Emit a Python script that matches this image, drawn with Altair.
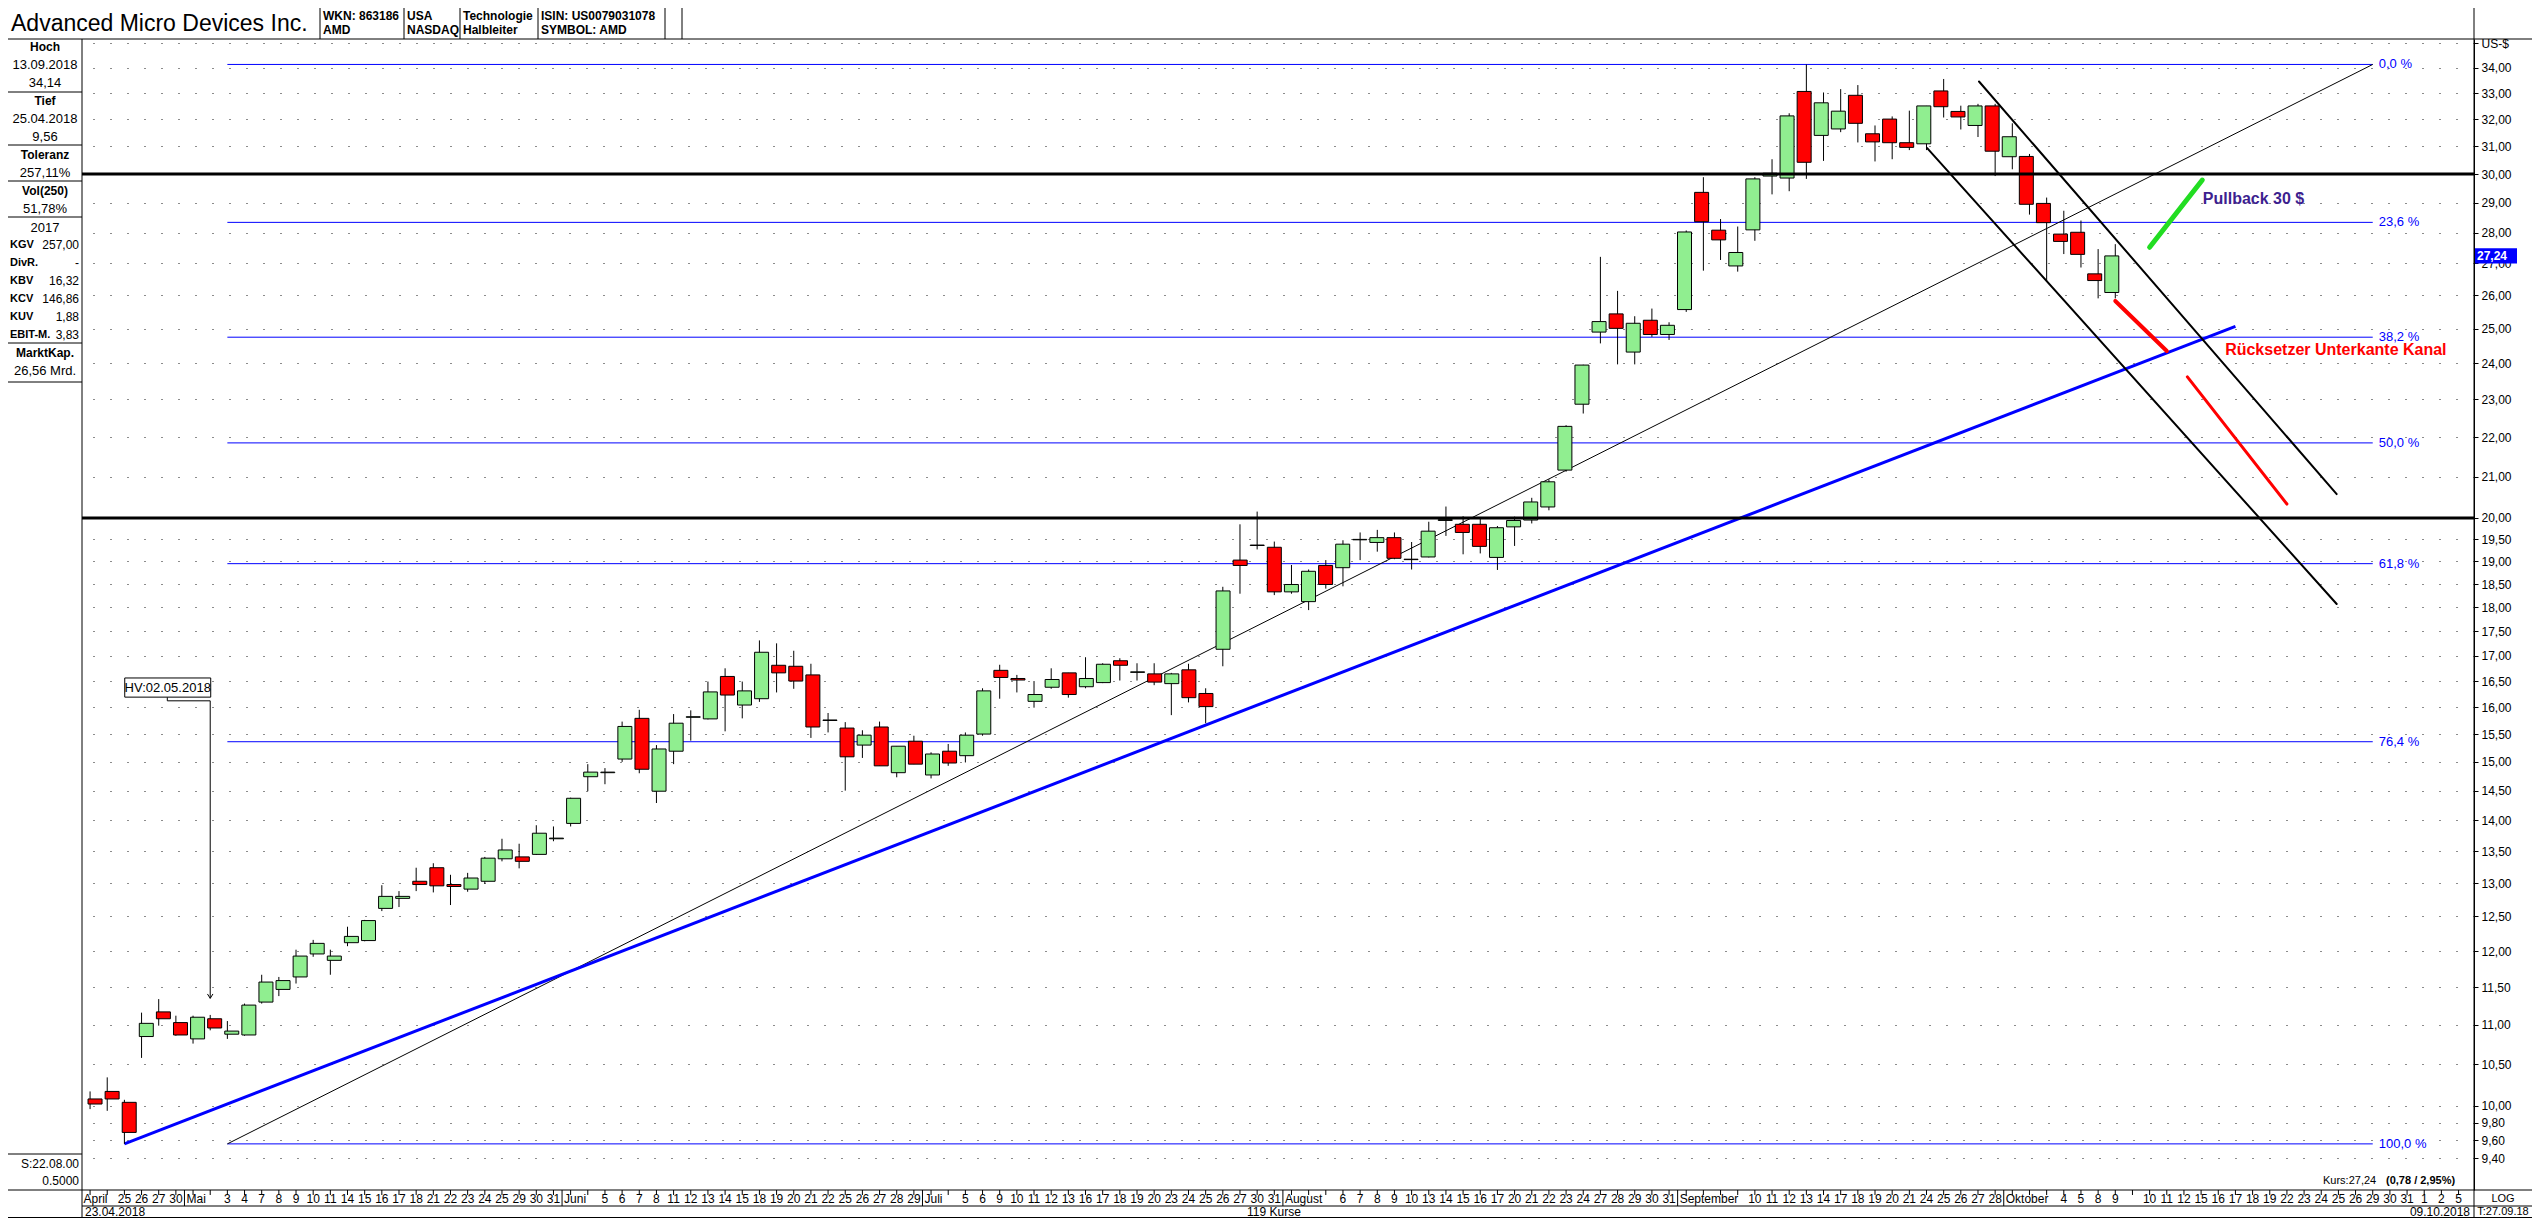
import altair as alt
import pandas as pd

# ---------------- chart values ----------------
trade_dates = [
    "23.04.2018", "24.04.2018", "25.04.2018", "26.04.2018", "27.04.2018", "30.04.2018",
    "01.05.2018", "02.05.2018", "03.05.2018", "04.05.2018", "07.05.2018", "08.05.2018", "09.05.2018",
    "10.05.2018", "11.05.2018", "14.05.2018", "15.05.2018", "16.05.2018", "17.05.2018", "18.05.2018",
    "21.05.2018", "22.05.2018", "23.05.2018", "24.05.2018", "25.05.2018", "29.05.2018", "30.05.2018",
    "31.05.2018",
    "01.06.2018", "04.06.2018", "05.06.2018", "06.06.2018", "07.06.2018", "08.06.2018", "11.06.2018",
    "12.06.2018", "13.06.2018", "14.06.2018", "15.06.2018", "18.06.2018", "19.06.2018", "20.06.2018",
    "21.06.2018", "22.06.2018", "25.06.2018", "26.06.2018", "27.06.2018", "28.06.2018", "29.06.2018",
    "02.07.2018", "03.07.2018", "05.07.2018", "06.07.2018", "09.07.2018", "10.07.2018", "11.07.2018",
    "12.07.2018", "13.07.2018", "16.07.2018", "17.07.2018", "18.07.2018", "19.07.2018", "20.07.2018",
    "23.07.2018", "24.07.2018", "25.07.2018", "26.07.2018", "27.07.2018", "30.07.2018", "31.07.2018",
    "01.08.2018", "02.08.2018", "03.08.2018", "06.08.2018", "07.08.2018", "08.08.2018", "09.08.2018",
    "10.08.2018", "13.08.2018", "14.08.2018", "15.08.2018", "16.08.2018", "17.08.2018", "20.08.2018",
    "21.08.2018", "22.08.2018", "23.08.2018", "24.08.2018", "27.08.2018", "28.08.2018", "29.08.2018",
    "30.08.2018", "31.08.2018",
    "04.09.2018", "05.09.2018", "06.09.2018", "07.09.2018", "10.09.2018", "11.09.2018", "12.09.2018",
    "13.09.2018", "14.09.2018", "17.09.2018", "18.09.2018", "19.09.2018", "20.09.2018", "21.09.2018",
    "24.09.2018", "25.09.2018", "26.09.2018", "27.09.2018", "28.09.2018",
    "01.10.2018", "02.10.2018", "03.10.2018", "04.10.2018", "05.10.2018", "08.10.2018", "09.10.2018",
]

opens = [
    10.08, 10.17, 10.04, 10.85, 11.17, 11.03, 10.82, 11.08, 10.88, 10.87, 11.30, 11.47, 11.64, 11.96, 11.87,
    12.12, 12.15, 12.62, 12.77, 13.03, 13.24, 12.98, 12.91, 13.03, 13.38, 13.41, 13.45, 13.70,
    13.95, 14.74, 14.81, 15.05, 15.79, 14.49, 15.19, 15.81, 15.78, 16.59, 16.04, 16.16, 16.81, 16.79,
    16.62, 15.75, 15.61, 15.30, 15.63, 14.81, 15.37,
    14.77, 15.19, 15.11, 15.50, 16.71, 16.55, 16.11, 16.38, 16.66, 16.39, 16.47, 16.90, 16.67, 16.64,
    16.45, 16.72, 16.26, 17.13, 19.03, 19.36, 19.32,
    18.33, 18.12, 18.91, 18.86, 19.49, 19.43, 19.54, 19.05, 19.10, 19.94, 19.85, 19.85, 19.09, 19.79,
    19.95, 20.26, 21.16, 22.87, 24.90, 25.44, 24.32, 25.25, 24.83,
    25.57, 29.36, 28.08, 26.92, 28.09, 29.93, 29.86, 33.07, 31.40, 31.64, 32.92, 31.46, 32.01, 31.13,
    31.09, 33.09, 32.30, 31.77, 32.51,
    30.62, 30.63, 28.98, 27.95, 28.01, 26.67, 26.09,
]
highs = [
    10.17, 10.34, 10.07, 11.16, 11.34, 11.12, 11.12, 11.13, 11.05, 11.28, 11.67, 11.64, 12.02, 12.16, 12.02,
    12.35, 12.45, 12.97, 12.88, 13.24, 13.31, 13.13, 13.16, 13.41, 13.70, 13.62, 13.92, 13.90,
    14.38, 14.96, 14.89, 15.73, 15.95, 15.30, 15.87, 15.94, 16.49, 16.75, 16.49, 17.31, 17.25, 17.10,
    16.84, 15.89, 15.72, 15.57, 15.73, 15.28, 15.47,
    15.17, 15.32, 15.53, 16.36, 16.82, 16.62, 16.50, 16.75, 16.66, 16.97, 16.85, 16.95, 16.85, 16.85,
    16.66, 16.84, 16.36, 18.44, 19.85, 20.15, 19.45,
    18.92, 18.82, 19.03, 19.48, 19.66, 19.72, 19.66, 19.44, 19.91, 20.27, 20.04, 20.02, 19.81, 20.03,
    20.48, 20.93, 22.31, 23.96, 27.21, 26.14, 25.37, 25.60, 25.19,
    28.07, 29.89, 28.45, 28.20, 29.89, 30.53, 32.23, 34.14, 33.03, 33.16, 33.32, 31.77, 32.11, 32.33,
    32.51, 33.56, 32.52, 32.59, 32.59,
    31.85, 30.72, 29.18, 28.73, 28.40, 27.46, 27.62,
]
lows = [
    9.96, 9.94, 9.56, 10.58, 10.99, 10.86, 10.76, 10.93, 10.82, 10.86, 11.28, 11.38, 11.55, 11.92, 11.67,
    12.07, 12.14, 12.58, 12.64, 12.88, 12.86, 12.67, 12.87, 12.99, 13.34, 13.23, 13.44, 13.66,
    13.90, 14.49, 14.61, 15.00, 14.80, 14.29, 14.96, 15.38, 15.77, 15.55, 15.79, 16.10, 16.28, 16.35,
    15.43, 15.53, 14.50, 15.07, 14.93, 14.73, 14.96,
    14.71, 14.93, 14.99, 15.47, 16.16, 16.28, 15.99, 16.35, 16.18, 16.36, 16.46, 16.51, 16.51, 16.42,
    15.85, 16.09, 15.70, 16.79, 18.29, 19.27, 18.26,
    18.29, 17.94, 18.40, 18.45, 19.03, 19.22, 19.05, 18.82, 19.09, 19.58, 19.16, 19.18, 18.81, 19.35,
    19.87, 20.18, 21.12, 22.62, 24.57, 23.97, 23.97, 24.76, 24.67,
    25.50, 26.77, 27.11, 26.74, 27.73, 29.29, 29.40, 29.83, 30.47, 31.52, 31.14, 30.45, 30.53, 30.86,
    30.86, 32.07, 31.62, 31.34, 29.93,
    30.17, 28.60, 26.46, 27.30, 26.87, 25.91, 25.91,
]
closes = [
    10.02, 10.08, 9.69, 11.02, 11.08, 10.87, 11.10, 10.96, 10.92, 11.26, 11.57, 11.59, 11.93, 12.11, 11.93,
    12.21, 12.44, 12.80, 12.80, 12.98, 12.96, 12.95, 13.08, 13.39, 13.52, 13.34, 13.79, 13.71,
    14.37, 14.82, 14.82, 15.64, 14.87, 15.23, 15.70, 15.82, 16.29, 16.23, 16.31, 17.07, 16.66, 16.50,
    15.63, 15.76, 15.09, 15.48, 14.93, 15.28, 14.96,
    15.14, 14.98, 15.48, 16.31, 16.57, 16.52, 16.24, 16.53, 16.24, 16.55, 16.83, 16.81, 16.68, 16.48,
    16.64, 16.18, 16.01, 18.35, 18.91, 19.37, 18.33,
    18.49, 18.78, 18.49, 19.39, 19.50, 19.54, 19.07, 19.04, 19.69, 19.96, 19.66, 19.34, 19.77, 19.94,
    20.38, 20.87, 22.28, 23.95, 25.21, 25.01, 25.16, 24.83, 25.10,
    28.02, 28.36, 27.76, 27.35, 29.83, 30.03, 32.13, 30.42, 32.63, 32.31, 31.85, 31.16, 31.13, 30.96,
    32.51, 32.48, 32.09, 32.51, 30.82,
    31.35, 28.95, 28.33, 27.71, 27.29, 26.46, 27.24,
]

future_dates = [
    "10.10.2018", "11.10.2018", "12.10.2018", "15.10.2018", "16.10.2018", "17.10.2018", "18.10.2018",
    "19.10.2018", "22.10.2018", "23.10.2018", "24.10.2018", "25.10.2018", "26.10.2018", "29.10.2018",
    "30.10.2018", "31.10.2018", "01.11.2018", "02.11.2018", "05.11.2018",
]
month_names = {"04": "April", "05": "Mai", "06": "Juni", "07": "Juli", "08": "August",
               "09": "September", "10": "Oktober"}
month_label_covers = {"April": 2, "Mai": 2, "Juni": 2, "Juli": 2, "August": 3, "September": 4, "Oktober": 3}

y_ticks = [9.4, 9.6, 9.8, 10.0, 10.5, 11.0, 11.5, 12.0, 12.5, 13.0, 13.5, 14.0, 14.5, 15.0, 15.5,
           16.0, 16.5, 17.0, 17.5, 18.0, 18.5, 19.0, 19.5, 20.0, 21.0, 22.0, 23.0, 24.0, 25.0, 26.0,
           27.0, 28.0, 29.0, 30.0, 31.0, 32.0, 33.0, 34.0, 35.0]

fib_ratios = [0.0, 23.6, 38.2, 50.0, 61.8, 76.4, 100.0]
fib_slots = [8, 133]
support_levels = [30.0, 20.0]

# drawn annotations: (slot0, price0, slot1, price1, colour, width)
annotation_lines = [
    (8, 9.56, 133, 34.14, "#000000", 1),
    (2, 9.56, 125, 25.07, "#0000ff", 3),
]
channel_lines = [
    (110.06, 33.46, 130.9, 20.57, "#000000", 2),
    (107.04, 30.93, 130.9, 18.07, "#000000", 2),
    (120.0, 27.52, 123.07, 29.79, "#22dd22", 5),
    (118.0, 25.83, 121.0, 24.35, "#ff0000", 4),
    (122.2, 23.62, 128.0, 20.33, "#ff0000", 3),
]
notes = [  # (slot, price, text, colour)
    (123.1, 29.13, "Pullback 30 $", "#3d1f8f"),
    (124.4, 24.38, "Rücksetzer Unterkante  Kanal", "#ff0000"),
]
hv_box = (2.02, 7.03, 16.19, 16.56, "HV:02.05.2018")
hv_path = [(4.5, 16.19, 4.5, 16.12), (4.5, 16.12, 7.0, 16.12), (7.0, 16.12, 7.0, 11.35)]
hv_arrow = (7.0, 11.35)

header_title = "Advanced Micro Devices Inc."
header_cells = [("WKN: 863186", "AMD"), ("USA", "NASDAQ"), ("Technologie", "Halbleiter"),
                ("ISIN: US0079031078", "SYMBOL: AMD")]
fund_labels = ["KGV", "DivR.", "KBV", "KCV", "KUV", "EBIT-M."]
fund_values = ["257,00", "-", "16,32", "146,86", "1,88", "3,83"]
fund_year = "2017"
vol250 = "51,78%"
market_cap = "26,56 Mrd."
footer_left = ["S:22.08.00", "0.5000"]
footer_right = ["LOG", "T:27.09.18"]


def de(v, nd=2):
    return f"{v:.{nd}f}".replace(".", ",")


# ---------------- geometry ----------------
W, H = 2392, 1151
XMIN, XMAX = -0.47, 138.9
YMIN, YMAX = 9.054, 35.18
xs = alt.Scale(domain=[XMIN, XMAX], nice=False, zero=False)
ys = alt.Scale(type="log", domain=[YMIN, YMAX], nice=False, zero=False)
FONT = "Liberation Sans, Arial, sans-serif"
NARROW = "Liberation Sans Narrow, Arial Narrow, Liberation Sans, sans-serif"

layers = []

# ---- candles ----
cdf = pd.DataFrame({"i": list(range(len(trade_dates))), "o": opens, "h": highs, "l": lows, "c": closes})
cdf["bot"] = cdf[["o", "c"]].min(axis=1)
cdf["top"] = cdf[["o", "c"]].max(axis=1)
cdf["col"] = ["#90ee90" if c >= o else "#ff0000" for o, c in zip(opens, closes)]

yaxis = alt.Axis(
    orient="right", values=y_ticks,
    labelExpr="datum.value >= 35 ? 'US-$' : replace(format(datum.value, '.2f'), '.', ',')",
    grid=True, gridDash=[1, 16], gridColor="#000000", gridWidth=1, gridOpacity=0.9,
    domain=True, domainColor="#000000", ticks=True, tickColor="#000000", tickSize=4,
    labelFont=FONT, labelFontSize=12, labelColor="#000000", labelPadding=3,
    labelOverlap=False, labelFlush=False, title=None,
)

# fib retracement lines (below candles)
hoch, tief = max(highs), min(lows)
fdf = pd.DataFrame({
    "p": [hoch - r / 100 * (hoch - tief) for r in fib_ratios],
    "t": [de(r, 1) + " %" for r in fib_ratios],
    "s0": fib_slots[0], "s1": fib_slots[1],
})
layers.append(alt.Chart(fdf).mark_rule(color="#0000ff", strokeWidth=1).encode(
    x=alt.X("s0:Q", scale=xs, axis=None), x2="s1:Q",
    y=alt.Y("p:Q", scale=ys, axis=None)))
layers.append(alt.Chart(fdf).mark_text(font=FONT, fontSize=13, color="#0000ff", align="left",
                                       baseline="middle", dx=6).encode(
    x=alt.X("s1:Q", scale=xs, axis=None), y=alt.Y("p:Q", scale=ys, axis=None), text="t:N"))

# trend lines (below candles)
adf = pd.DataFrame(annotation_lines, columns=["i0", "p0", "i1", "p1", "col", "w"])
layers.append(alt.Chart(adf).mark_rule().encode(
    x=alt.X("i0:Q", scale=xs, axis=None), x2="i1:Q",
    y=alt.Y("p0:Q", scale=ys, axis=None), y2="p1:Q",
    color=alt.Color("col:N", scale=None), size=alt.Size("w:Q", scale=None)))

# candles
layers.append(alt.Chart(cdf).mark_rule(color="#000000", strokeWidth=1).encode(
    x=alt.X("i:Q", scale=xs, axis=None), y=alt.Y("l:Q", scale=ys, axis=None), y2="h:Q"))
layers.append(alt.Chart(cdf).mark_bar(size=14, stroke="#000000", strokeWidth=1).encode(
    x=alt.X("i:Q", scale=xs, axis=None), y=alt.Y("bot:Q", scale=ys, axis=yaxis), y2="top:Q",
    color=alt.Color("col:N", scale=None)))

# support / resistance lines
sdf = pd.DataFrame({"p": support_levels, "a": XMIN, "b": XMAX})
layers.append(alt.Chart(sdf).mark_rule(color="#000000", strokeWidth=3).encode(
    x=alt.X("a:Q", scale=xs, axis=None), x2="b:Q", y=alt.Y("p:Q", scale=ys, axis=None)))

# channel + drawn marks
chdf = pd.DataFrame(channel_lines, columns=["i0", "p0", "i1", "p1", "col", "w"])
layers.append(alt.Chart(chdf).mark_rule(strokeCap="round").encode(
    x=alt.X("i0:Q", scale=xs, axis=None), x2="i1:Q",
    y=alt.Y("p0:Q", scale=ys, axis=None), y2="p1:Q",
    color=alt.Color("col:N", scale=None), size=alt.Size("w:Q", scale=None)))

ndf = pd.DataFrame(notes, columns=["i", "p", "t", "col"])
layers.append(alt.Chart(ndf).mark_text(font=FONT, fontSize=16, fontWeight="bold", align="left",
                                       baseline="middle").encode(
    x=alt.X("i:Q", scale=xs, axis=None), y=alt.Y("p:Q", scale=ys, axis=None), text="t:N",
    color=alt.Color("col:N", scale=None)))

# HV annotation
hvb = pd.DataFrame([hv_box], columns=["a", "b", "p0", "p1", "t"])
hvb["m"] = (hvb["a"] + hvb["b"]) / 2
hvb["pm"] = (hvb["p0"] * hvb["p1"]) ** 0.5
hvp = pd.DataFrame(hv_path, columns=["i0", "p0", "i1", "p1"])
layers.append(alt.Chart(hvp).mark_rule(color="#000000", strokeWidth=1).encode(
    x=alt.X("i0:Q", scale=xs, axis=None), x2="i1:Q",
    y=alt.Y("p0:Q", scale=ys, axis=None), y2="p1:Q"))
layers.append(alt.Chart(hvb).mark_rect(fill="#ffffff", stroke="#000000", strokeWidth=1).encode(
    x=alt.X("a:Q", scale=xs, axis=None), x2="b:Q",
    y=alt.Y("p0:Q", scale=ys, axis=None), y2="p1:Q"))
layers.append(alt.Chart(hvb).mark_text(font=NARROW, fontSize=13, align="center", baseline="middle").encode(
    x=alt.X("m:Q", scale=xs, axis=None), y=alt.Y("pm:Q", scale=ys, axis=None), text="t:N"))
arr = pd.DataFrame([hv_arrow], columns=["i", "p"])
layers.append(alt.Chart(arr).mark_point(shape="M-1,-1.6L0,0L1,-1.6", filled=False, size=30,
                                        color="#000000", strokeWidth=1, opacity=1).encode(
    x=alt.X("i:Q", scale=xs, axis=None), y=alt.Y("p:Q", scale=ys, axis=None)))

# last price box on axis
last = pd.DataFrame({"p": [closes[-1]], "t": [de(closes[-1])]})
layers.append(alt.Chart(last).mark_point(shape="M-1,-0.36L1,-0.36L1,0.36L-1,0.36Z", filled=True,
                                         size=1764, color="#0000ff", opacity=1).encode(
    x=alt.value(W + 22), y=alt.Y("p:Q", scale=ys, axis=None)))
layers.append(alt.Chart(last).mark_text(font=FONT, fontSize=12, fontWeight="bold", color="#ffffff",
                                        align="left", baseline="middle").encode(
    x=alt.value(W + 3), y=alt.Y("p:Q", scale=ys, axis=None), text="t:N"))

# ---- time axis ----
all_days = [(i, d) for i, d in enumerate(trade_dates)] + \
           [(len(trade_dates) + 1 + k, d) for k, d in enumerate(future_dates)]
lab_rows, mon_rows, sep_rows = [], [], []
prev_m, cnt = None, 0
for s, d in all_days:
    mm = d[3:5]
    if mm != prev_m:
        prev_m, cnt = mm, 0
        if mm in month_names:
            mon_rows.append((s - 0.5, month_names[mm]))
            if s > 0:
                sep_rows.append(s - 0.5)
    name = month_names.get(mm)
    covered = month_label_covers.get(name, 0) if name else 0
    if cnt >= covered:
        lab_rows.append((s, str(int(d[:2]))))
    cnt += 1

tick_df = pd.DataFrame({"s": list(range(0, all_days[-1][0] + 1))})
layers.append(alt.Chart(tick_df).mark_rule(color="#000000").encode(
    x=alt.X("s:Q", scale=xs, axis=None), y=alt.value(H), y2=alt.value(H + 5)))
sep_df = pd.DataFrame({"s": sep_rows})
layers.append(alt.Chart(sep_df).mark_rule(color="#000000").encode(
    x=alt.X("s:Q", scale=xs, axis=None), y=alt.value(H), y2=alt.value(H + 16)))
lab_df = pd.DataFrame(lab_rows, columns=["s", "t"])
layers.append(alt.Chart(lab_df).mark_text(font=NARROW, fontSize=12, align="center", baseline="middle").encode(
    x=alt.X("s:Q", scale=xs, axis=None), y=alt.value(H + 9), text="t:N"))
mon_df = pd.DataFrame(mon_rows, columns=["s", "t"])
layers.append(alt.Chart(mon_df).mark_text(font=NARROW, fontSize=12, align="left", baseline="middle", dx=2).encode(
    x=alt.X("s:Q", scale=xs, axis=None), y=alt.value(H + 9), text="t:N"))


# ---- frame, header, side panel (layout in pixels) ----
def lines(rows, width=1, color="#000000"):
    d = pd.DataFrame(rows, columns=["x", "x2", "y", "y2"])
    return alt.Chart(d).mark_rule(color=color, strokeWidth=width).encode(
        x=alt.X("x:Q", scale=None), x2="x2:Q", y=alt.Y("y:Q", scale=None), y2="y2:Q")


def texts(rows, size=12, weight="normal", align="left", font=FONT, color="#000000"):
    d = pd.DataFrame(rows, columns=["x", "y", "t"])
    return alt.Chart(d).mark_text(font=font, fontSize=size, fontWeight=weight, align=align,
                                  baseline="middle", color=color).encode(
        x=alt.X("x:Q", scale=None), y=alt.Y("y:Q", scale=None), text="t:N")


RB = W + 58
frame = [(-74, RB, 0, 0), (-74, RB, H, H), (0, RB, H + 16, H + 16), (-74, RB, H + 27.5, H + 27.5),
         (0, 0, 0, H + 28), (W, W, -31, H + 28)]
for xv in [238, 322, 378, 456, 583, 600]:
    frame.append((xv, xv, -31, 0))
for yv in [53, 106, 142, 178, 304, 343, 1115]:
    frame.append((-74, 0, yv, yv))
layers.append(lines(frame))

layers.append(texts([(-71, -15, header_title)], size=23))
cell_x = [241, 325, 381, 459]
hdr_rows = []
for cx, (a, b) in zip(cell_x, header_cells):
    hdr_rows += [(cx, -23, a), (cx, -9, b)]
layers.append(texts(hdr_rows, size=12, weight="bold", font=NARROW))

tol = (hoch / tief - 1) * 100
hi_date = trade_dates[highs.index(hoch)]
lo_date = trade_dates[lows.index(tief)]
layers.append(texts([(-37, 8, "Hoch"), (-37, 62, "Tief"), (-37, 116, "Toleranz"),
                     (-37, 152, "Vol(250)"), (-37, 314, "MarktKap.")],
                    size=12, weight="bold", align="center"))
layers.append(texts([(-37, 26, hi_date), (-37, 44, de(hoch)), (-37, 80, lo_date), (-37, 98, de(tief)),
                     (-37, 134, de(tol) + "%"), (-37, 170, vol250), (-37, 189, fund_year),
                     (-37, 332, market_cap)], size=13, align="center"))
fy = [206, 224, 242, 260, 278, 296]
layers.append(texts([(-72, y, t) for y, t in zip(fy, fund_labels)], size=11, weight="bold"))
layers.append(texts([(-3, y, t) for y, t in zip(fy, fund_values)], size=12, align="right"))
layers.append(texts([(-3, 1125, footer_left[0]), (-3, 1142, footer_left[1])], size=12, align="right",
                    font=NARROW))

chg = closes[-1] - closes[-2]
layers.append(texts([(2241, 1142, "Kurs:" + de(closes[-1]))], size=11, font=NARROW))
layers.append(texts([(2304, 1142, "(" + de(chg) + " / " + de(chg / closes[-2] * 100) + "%)")],
                    size=11, weight="bold", font=NARROW))
layers.append(texts([(3, H + 22, trade_dates[0]), (1165, H + 22, f"{len(trade_dates)} Kurse")],
                    size=12, font=NARROW))
layers.append(texts([(W - 4, H + 22, trade_dates[-1])], size=12, align="right", font=NARROW))
layers.append(texts([(W + 29, H + 9, footer_right[0]), (W + 29, H + 22, footer_right[1])],
                    size=11, align="center", font=NARROW))

chart = alt.layer(*layers).resolve_scale(x="independent", y="independent").properties(
    width=W, height=H,
    padding={"left": 74, "top": 31, "right": 58, "bottom": 28},
    autosize=alt.AutoSizeParams(type="none"),
    background="#ffffff",
).configure_view(stroke=None)

chart.save("out.html", embed_options={"renderer": "svg", "actions": False})
